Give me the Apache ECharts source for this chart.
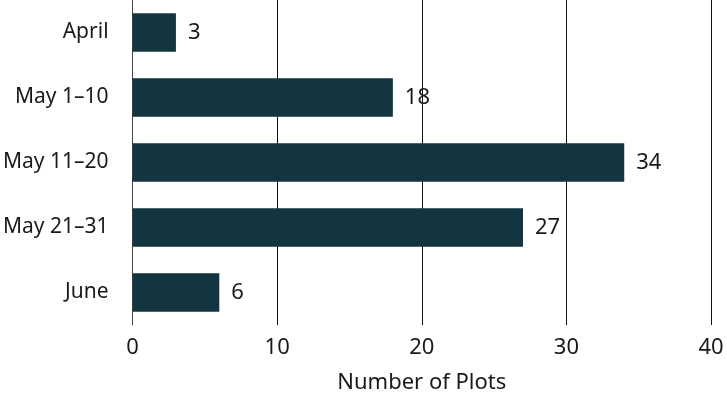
<!DOCTYPE html>
<html>
<head>
<meta charset="utf-8">
<script src="https://cdn.jsdelivr.net/npm/echarts@6/dist/echarts.min.js"></script>
<style>
  html, body { margin: 0; padding: 0; background: #fff; }
  #chart { width: 727px; height: 399px; }
</style>
</head>
<body>
<div id="chart"></div>
<script>
var categories = ['April', 'May 1\u201310', 'May 11\u201320', 'May 21\u201331', 'June'];
var plotCounts = [3, 18, 34, 27, 6];
var xTicks = [0, 10, 20, 30, 40];

var font = '"Noto Sans", Lato, sans-serif';
var chart = echarts.init(document.getElementById('chart'));
chart.setOption({
    backgroundColor: '#fff',
    animation: false,
    textStyle: { fontFamily: font },
    grid: {
        top: 0,
        left: 132,
        right: 16,
        bottom: 72,
        containLabel: false
    },
    xAxis: {
        type: 'value',
        min: xTicks[0],
        max: xTicks[xTicks.length - 1],
        interval: 10,
        name: 'Number of Plots',
        nameLocation: 'middle',
        nameGap: 47,
        nameTextStyle: { fontSize: 22, color: '#1a1a1a', fontFamily: font },
        axisLine: { show: false },
        axisTick: { show: false },
        axisLabel: { fontSize: 22, color: '#1a1a1a', margin: 12, fontFamily: font },
        splitLine: { show: true, lineStyle: { color: '#111', width: 1 } }
    },
    yAxis: {
        type: 'category',
        inverse: true,
        data: categories,
        axisLine: { show: true, lineStyle: { color: '#444', width: 1 } },
        axisTick: { show: false },
        axisLabel: { fontSize: 21, color: '#1a1a1a', margin: 24, fontFamily: font }
    },
    series: [{
        type: 'bar',
        data: plotCounts,
        barWidth: '59%',
        itemStyle: { color: '#12353f' },
        label: {
            show: true,
            position: 'right',
            distance: 12,
            fontSize: 22,
            color: '#1a1a1a',
            fontFamily: font
        }
    }]
});
</script>
</body>
</html>
